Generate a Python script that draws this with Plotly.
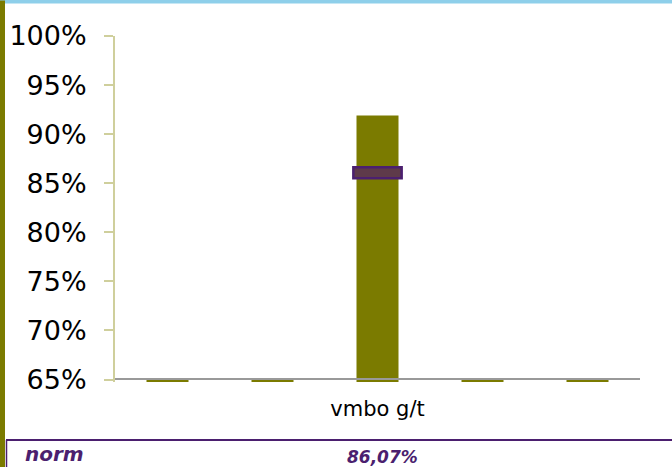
import plotly.graph_objects as go

# ---- data ----
categories = ["c1", "c2", "vmbo g/t", "c4", "c5"]
tick_labels = ["", "", "vmbo g/t", "", ""]
values = [0.0, 0.0, 91.9, 0.0, 0.0]
norm_value = 86.07
norm_label = "norm"
norm_text = "86,07%"
y_ticks = [65, 70, 75, 80, 85, 90, 95, 100]

W, H = 672, 467
ML, MR, MT, MB = 115, 32, 35.5, 85
Y_MIN, Y_MAX = 64.75, 100
AXIS_BASE = 65

pw = W - ML - MR
ph = H - MT - MB

def px_x(x):
    return (x - ML) / pw

def px_y(y):
    return (H - MB - y) / ph

OLIVE = "#7B7B00"
PURPLE = "#4B1F6F"

bar_tops = [max(v, AXIS_BASE) for v in values]
bar_base = [Y_MIN for _ in values]
bar_len = [t - Y_MIN for t in bar_tops]

fig = go.Figure()
fig.add_trace(go.Bar(
    x=categories, y=bar_len, base=bar_base, width=0.4,
    marker=dict(color=OLIVE, line=dict(width=0)),
    showlegend=False, hoverinfo="skip",
))
norm_h = 1.1
fig.add_trace(go.Bar(
    x=[categories[2]], y=[norm_h], base=[norm_value - norm_h / 2], width=0.46,
    marker=dict(color="#5E3A4A", line=dict(color=PURPLE, width=2.5)),
    showlegend=False, hoverinfo="skip",
))

shapes = [
    dict(type="line", xref="paper", yref="y", x0=0, x1=1, y0=AXIS_BASE + 0.05, y1=AXIS_BASE + 0.05,
         line=dict(color="#999999", width=2), layer="above"),
    dict(type="rect", xref="paper", yref="paper", x0=px_x(0), x1=px_x(W + 2),
         y0=px_y(3), y1=px_y(-2), fillcolor="#8ECFEA", line=dict(width=0), layer="above"),
    dict(type="rect", xref="paper", yref="paper", x0=px_x(-2), x1=px_x(5),
         y0=px_y(H + 2), y1=px_y(0), fillcolor=OLIVE, line=dict(width=0), layer="above"),
    dict(type="line", xref="paper", yref="paper", x0=px_x(6), x1=px_x(W + 2),
         y0=px_y(440), y1=px_y(440), line=dict(color=PURPLE, width=2), layer="above"),
    dict(type="line", xref="paper", yref="paper", x0=px_x(6.5), x1=px_x(6.5),
         y0=px_y(440), y1=px_y(H + 2), line=dict(color=PURPLE, width=1.5), layer="above"),
]

annotations = [
    dict(text=norm_label, xref="paper", yref="paper", x=px_x(23), y=px_y(454),
         xanchor="left", yanchor="middle", showarrow=False,
         font=dict(family="DejaVu Sans", size=20, color=PURPLE, weight="bold", style="italic")),
    dict(text=norm_text, xref="paper", yref="paper", x=px_x(382), y=px_y(457),
         xanchor="center", yanchor="middle", showarrow=False,
         font=dict(family="DejaVu Sans", size=17, color=PURPLE, weight="bold", style="italic")),
]

fig.update_layout(
    width=W, height=H,
    margin=dict(l=ML, r=MR, t=MT, b=MB, pad=0, autoexpand=False),
    paper_bgcolor="white", plot_bgcolor="white",
    barmode="overlay",
    font=dict(family="DejaVu Sans", color="#000000"),
    shapes=shapes, annotations=annotations,
    xaxis=dict(
        categoryorder="array", categoryarray=categories,
        tickmode="array", tickvals=categories, ticktext=tick_labels,
        showline=False, showgrid=False, zeroline=False, ticks="",
        tickfont=dict(size=21, color="#000000"),
        ticklabelstandoff=12, automargin=False,
        range=[-0.5, 4.5],
    ),
    yaxis=dict(
        range=[Y_MIN, Y_MAX],
        tickmode="array", tickvals=y_ticks, ticktext=[f"{t}%" for t in y_ticks],
        showline=True, linecolor="#CFCF9C", linewidth=2,
        ticks="outside", ticklen=9, tickcolor="#CFCF9C", tickwidth=2,
        ticklabelstandoff=12, automargin=False,
        showgrid=False, zeroline=False,
        tickfont=dict(size=27, color="#000000"),
    ),
)

fig.write_html("out.html", config={"displayModeBar": False},
               post_script="document.body.style.margin='0';")
